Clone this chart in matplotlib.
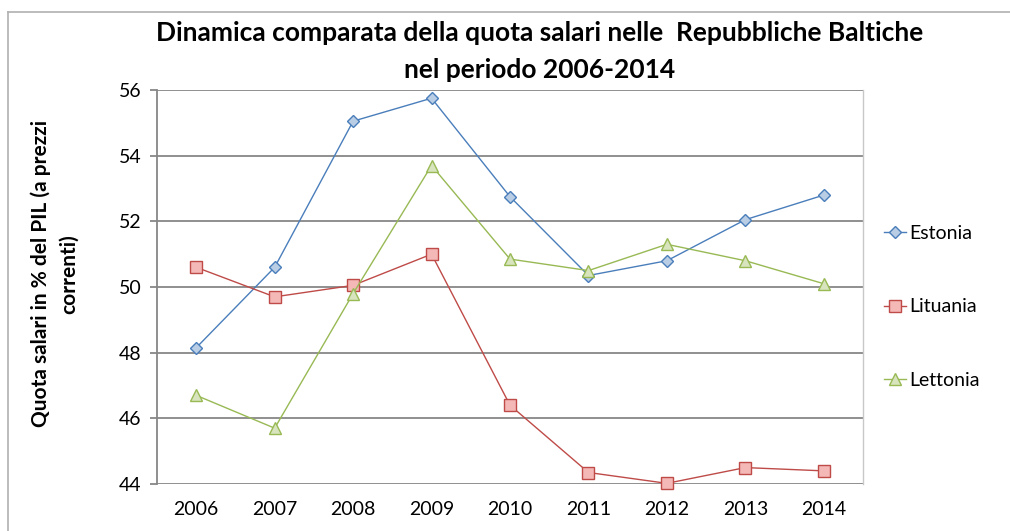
import matplotlib
matplotlib.use('Agg')
import matplotlib.pyplot as plt
from matplotlib.lines import Line2D

years = ['2006', '2007', '2008', '2009', '2010', '2011', '2012', '2013', '2014']
estonia = [48.15, 50.6, 55.05, 55.75, 52.75, 50.35, 50.8, 52.05, 52.8]
lituania = [50.6, 49.7, 50.05, 51.0, 46.4, 44.35, 44.02, 44.5, 44.4]
lettonia = [46.7, 45.7, 49.8, 53.7, 50.85, 50.5, 51.3, 50.8, 50.1]

W, H = 1010, 531
plt.rcParams['font.family'] = ['Lato', 'DejaVu Sans']

fig = plt.figure(figsize=(W / 100, H / 100), dpi=100)
fig.patch.set_facecolor('white')

# chart border (top and left edges are visible)
fig.add_artist(Line2D([8 / W, 8 / W], [0, 1 - 12 / H], color='#b0b0b0', lw=1.2))
fig.add_artist(Line2D([8 / W, 1], [1 - 12 / H, 1 - 12 / H], color='#b0b0b0', lw=1.2))

ax = fig.add_axes([157 / W, (H - 484) / H, (863 - 157) / W, (484 - 90) / H])
x = list(range(len(years)))

series = [
    ('Estonia', estonia, 'D', 6.0, '#4a7ebb', '#b9cde5'),
    ('Lituania', lituania, 's', 8.5, '#be4b48', '#f4b8b6'),
    ('Lettonia', lettonia, '^', 8.0, '#98b954', '#d7e4bd'),
]
for name, vals, mk, ms, col, fill in series:
    ax.plot(x, vals, color=col, lw=1.0, marker=mk, markersize=ms,
            markerfacecolor=fill, markeredgecolor=col, markeredgewidth=1.0,
            label=name, clip_on=False, zorder=3)

ax.set_xlim(-0.5, 8.5)
ax.set_ylim(44, 56)
ax.set_yticks(range(44, 57, 2))
ax.set_xticks(x)
ax.set_xticklabels(years)
ax.grid(axis='y', color='#878787', lw=1.3)
ax.set_axisbelow(True)
for s in ['top', 'bottom']:
    ax.spines[s].set_visible(False)
ax.spines['left'].set_color('#878787')
ax.spines['left'].set_linewidth(1.3)
ax.spines['right'].set_color('#c8c8c8')
ax.spines['right'].set_linewidth(1.0)
ax.tick_params(axis='y', length=5, color='#878787', width=1.3, labelsize=14, pad=6)
ax.tick_params(axis='x', length=0, labelsize=14, pad=12)

# y axis title, two lines
fig.text(55 / W, 1 - 274 / H, 'Quota salari in % del PIL (a prezzi\ncorrenti)',
         rotation=90, ha='center', va='center', multialignment='center',
         fontsize=15, fontweight='bold', linespacing=1.5)

fig.text(540 / W, 1 - 33 / H, 'Dinamica comparata della quota salari nelle  Repubbliche Baltiche',
         ha='center', va='center', fontsize=19, fontweight='bold')
fig.text(540 / W, 1 - 70 / H, 'nel periodo 2006-2014',
         ha='center', va='center', fontsize=19, fontweight='bold')

fig.legend(loc='center left', bbox_to_anchor=(874 / W, 1 - 307 / H), frameon=False,
           fontsize=14, labelspacing=2.9, handlelength=1.15, handletextpad=0.15,
           borderpad=0)

fig.savefig('out.png', dpi=100)
